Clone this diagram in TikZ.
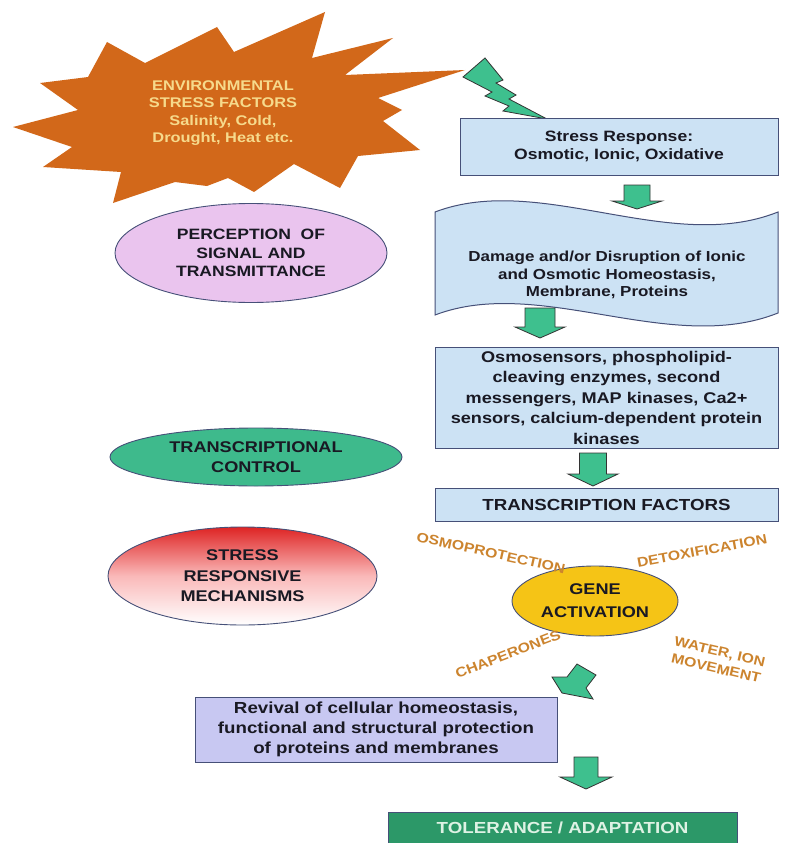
\documentclass[tikz,border=0pt]{standalone}
\usepackage{fontspec}
\newfontfamily\lab{Liberation Sans}[FakeStretch=1.17]
\usetikzlibrary{shapes.geometric}
\definecolor{boxblue}{RGB}{204,226,244}
\definecolor{boxedge}{RGB}{70,80,120}
\definecolor{lav}{RGB}{200,200,242}
\definecolor{tolgreen}{RGB}{44,152,104}
\definecolor{toltext}{RGB}{222,242,228}
\definecolor{gold}{RGB}{245,196,22}
\definecolor{lilac}{RGB}{234,196,238}
\definecolor{tealc}{RGB}{62,186,140}
\definecolor{stressred}{RGB}{222,36,36}
\definecolor{stresspink}{RGB}{250,185,185}
\definecolor{burst}{RGB}{210,104,26}
\definecolor{bursttext}{RGB}{246,218,140}
\definecolor{arrgreen}{RGB}{62,192,142}
\definecolor{labtext}{RGB}{204,132,46}
\definecolor{ink}{RGB}{25,25,35}
\newcommand\fs[2]{\fontsize{#1}{#2}\selectfont}
% block arrow: cx, top, shaft half width, shaft length, head half width, head length
\newcommand\barrow[6]{\filldraw[barr] (#1-#3,#2) -- (#1+#3,#2) -- (#1+#3,#2+#4) -- (#1+#5,#2+#4) -- (#1,#2+#4+#6) -- (#1-#5,#2+#4) -- (#1-#3,#2+#4) -- cycle;}
\begin{document}
\begin{tikzpicture}[x=1pt,y=-1pt,
  every node/.style={text=ink, align=center, inner sep=0pt},
  box/.style={draw=boxedge, line width=1pt, fill=boxblue, rectangle},
  oval/.style={ellipse, draw=boxedge, line width=0.9pt, inner sep=0pt},
  barr/.style={fill=arrgreen, draw=black!80, line width=0.8pt, line join=miter},
  lbl/.style={text=labtext, font=\lab\bfseries\fs{13.5}{17}}
]
\useasboundingbox (0,0) rectangle (791,843);
\fill[white] (0,0) rectangle (791,843);

% starburst
\fill[burst] (325,12) -- (312,58) -- (393,38) -- (345,75) -- (465,70) -- (378,98) -- (402,110) -- (383,121) -- (420,150) -- (358,156) -- (340,188) -- (294,164) -- (254,192) -- (228,178) -- (207,186) -- (175,182) -- (113,203) -- (121,172) -- (43,167) -- (72,147) -- (13,127) -- (78,110) -- (40,83) -- (88,77) -- (107,42) -- (145,63) -- (217,27) -- (234,52) -- cycle;
\node[font=\lab\bfseries\fs{14}{17.5}, text=bursttext] (env) at (223,113) {ENVIRONMENTAL\\STRESS FACTORS\\Salinity, Cold,\\Drought, Heat etc.};

% lightning
\filldraw[barr] (463,77) -- (485,58) -- (503,80) -- (496,83) -- (516,95) -- (509,99) -- (547,119) -- (503,111) -- (509,106) -- (485,96) -- (492,92) -- cycle;

% right column
\node[box, minimum width=318pt, minimum height=57pt, font=\lab\bfseries\fs{15}{18}] (sr) at (619,146.5) {Stress Response:\\Osmotic, Ionic, Oxidative};

\filldraw[box] (435,212) .. controls (540,172) and (670,255) .. (778,212) -- (778,313) .. controls (670,356) and (540,275) .. (435,315) -- cycle;
\node[font=\lab\bfseries\fs{14.5}{17.5}] (dmg) at (607,275) {Damage and/or Disruption of Ionic\\and Osmotic Homeostasis,\\Membrane, Proteins};

\node[box, minimum width=343pt, minimum height=101pt, font=\lab\bfseries\fs{15.5}{20.5}] (osm) at (606.5,397.5) {Osmosensors, phospholipid-\\cleaving enzymes, second\\messengers, MAP kinases, Ca2+\\sensors, calcium-dependent protein\\kinases};

\node[box, minimum width=343pt, minimum height=33pt, font=\lab\bfseries\fs{16}{19}] (tf) at (606.5,504.5) {TRANSCRIPTION FACTORS};

% arrows
\barrow{637}{185}{13}{16}{25}{8}
\barrow{540}{308}{15}{19}{25}{11}
\barrow{593}{453}{13.5}{21}{25}{12}
\barrow{586}{757}{12}{20}{26}{12}
\filldraw[barr] (577,664) -- (596,675) -- (586,688) -- (593,699) -- (562,693) -- (552,677) -- (567,677) -- cycle;

% left ellipses
\node[oval, fill=lilac, minimum width=272pt, minimum height=99pt, font=\lab\bfseries\fs{15}{18.5}] (perc) at (251,253) {PERCEPTION\ \ OF\\SIGNAL AND\\TRANSMITTANCE};
\node[oval, fill=tealc, minimum width=292pt, minimum height=58pt, font=\lab\bfseries\fs{15.5}{20}] (trc) at (256,457) {TRANSCRIPTIONAL\\CONTROL};
\node[oval, top color=stressred, bottom color=white, middle color=stresspink, minimum width=269pt, minimum height=98pt, font=\lab\bfseries\fs{15.5}{20.5}] (srm) at (242.5,576) {STRESS\\RESPONSIVE\\MECHANISMS};

% gene activation
\node[oval, fill=gold, minimum width=166pt, minimum height=70pt, font=\lab\bfseries\fs{15.5}{23}] (gene) at (595,601) {GENE\\ACTIVATION};
\node[lbl, rotate=-12.5] (osp) at (491,553) {OSMOPROTECTION};
\node[lbl, rotate=10.5] (dtx) at (702,551) {DETOXIFICATION};
\node[lbl, rotate=21] (chp) at (508,654) {CHAPERONES};
\node[lbl, rotate=-13] (wat) at (718,660) {WATER, ION\\MOVEMENT};

% bottom
\node[box, fill=lav, minimum width=362pt, minimum height=65pt, font=\lab\bfseries\fs{16}{20}] (rev) at (376,729.5) {Revival of cellular homeostasis,\\functional and structural protection\\of proteins and membranes};
\node[box, fill=tolgreen, text=toltext, minimum width=349pt, minimum height=32pt, font=\lab\bfseries\fs{16}{19}] (tol) at (562.5,828) {TOLERANCE / ADAPTATION};
\end{tikzpicture}
\end{document}
